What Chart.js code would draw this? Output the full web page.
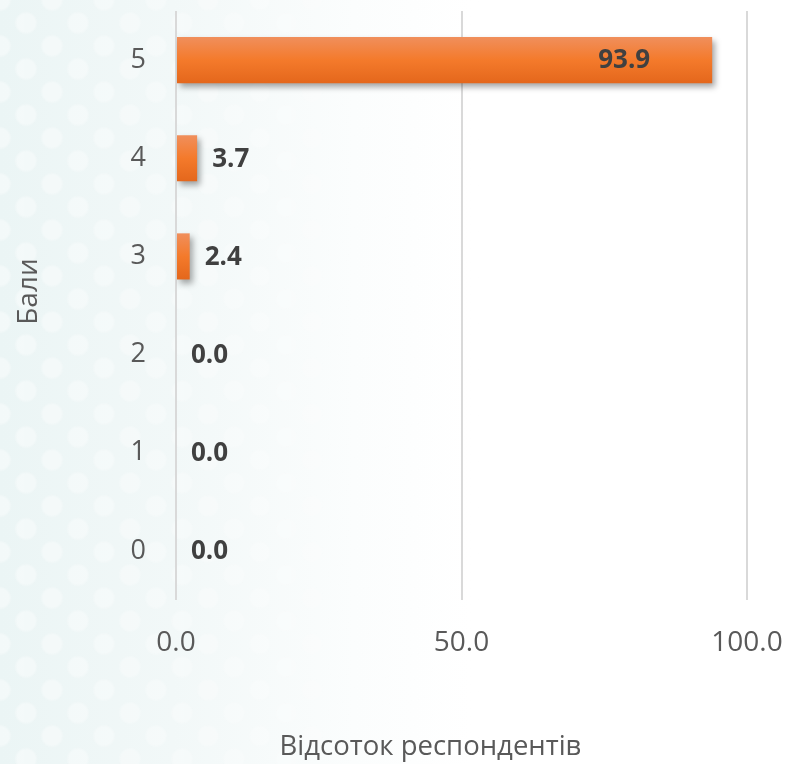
<!DOCTYPE html>
<html>
<head>
<meta charset="utf-8">
<script src="https://cdn.jsdelivr.net/npm/chart.js@4.4.1/dist/chart.umd.min.js"></script>
<style>
  html, body { margin: 0; padding: 0; }
  body {
    width: 786px; height: 764px; overflow: hidden; position: relative;
    background: linear-gradient(to right, #ebf5f5 0%, #f2f8f8 22%, #fbfdfd 45%, #ffffff 60%);
  }
  #dots {
    position: absolute; left: 0; top: 0; width: 786px; height: 764px;
    background-image:
      radial-gradient(circle, rgba(255,255,255,0.42) 9px, rgba(255,255,255,0) 12px),
      radial-gradient(circle, rgba(255,255,255,0.42) 9px, rgba(255,255,255,0) 12px);
    background-size: 52px 46px, 52px 46px;
    background-position: 0 0, 26px 23px;
    -webkit-mask-image: linear-gradient(to right, #000 0%, rgba(0,0,0,0.6) 30%, rgba(0,0,0,0) 65%);
    mask-image: linear-gradient(to right, #000 0%, rgba(0,0,0,0.6) 30%, rgba(0,0,0,0) 65%);
  }
  canvas { position: absolute; left: 0; top: 0; }
</style>
</head>
<body>
<div id="dots"></div>
<canvas id="js--chart" width="786" height="764"></canvas>
<script>
const categories = ["5", "4", "3", "2", "1", "0"];
const values = [93.9, 3.7, 2.4, 0.0, 0.0, 0.0];
const xTicks = [0, 50, 100];

const xTitle = "Відсоток респондентів";
const yTitle = "Бали";

const barShare = 0.94 * 0.5;

// gradient per bar, light on top, darker at the bottom
function barGradient(ctx) {
  const chart = ctx.chart;
  const yScale = chart.scales.y;
  if (!yScale || ctx.dataIndex === undefined) return "#f47b2c";
  const yc = yScale.getPixelForValue(ctx.dataIndex);
  const half = (yScale.bottom - yScale.top) / categories.length * barShare / 2;
  if (!isFinite(yc) || !isFinite(half) || half <= 0) return "#f47b2c";
  const g = chart.ctx.createLinearGradient(0, yc - half, 0, yc + half);
  g.addColorStop(0, "#f08f5c");
  g.addColorStop(0.5, "#f47a2b");
  g.addColorStop(1, "#e4671c");
  return g;
}

const barShadow = {
  id: "barShadow",
  beforeDatasetsDraw(chart) {
    const c = chart.ctx;
    c.save();
    c.shadowColor = "rgba(0,0,0,0.35)";
    c.shadowBlur = 6;
    c.shadowOffsetX = 3;
    c.shadowOffsetY = 4;
  },
  afterDatasetsDraw(chart) {
    chart.ctx.restore();
  },
};

const valueLabels = {
  id: "valueLabels",
  afterDatasetsDraw(chart) {
    const c = chart.ctx;
    const meta = chart.getDatasetMeta(0);
    c.save();
    c.font = "bold 26px 'Open Sans'";
    c.fillStyle = "#404040";
    c.textBaseline = "middle";
    meta.data.forEach((bar, i) => {
      const v = values[i];
      if (v > 50) {
        c.textAlign = "right";
        c.fillText(v.toFixed(1), bar.x - 62, bar.y + 1);
      } else {
        c.textAlign = "left";
        c.fillText(v.toFixed(1), bar.x + 15, bar.y + 1);
      }
    });
    c.restore();
  },
};

const axisTitles = {
  id: "axisTitles",
  afterDraw(chart) {
    const c = chart.ctx;
    const a = chart.chartArea;
    c.save();
    c.font = "27.5px 'Open Sans'";
    c.fillStyle = "#595959";
    c.textAlign = "center";
    c.textBaseline = "alphabetic";
    c.fillText(xTitle, (a.left + a.right) / 2 - 31, 755);
    c.font = "28px 'Open Sans'";
    c.translate(37, (a.top + a.bottom) / 2 - 14);
    c.rotate(-Math.PI / 2);
    c.fillText(yTitle, 0, 0);
    c.restore();
  },
};

const data = {
  labels: categories,
  datasets: [
    {
      data: values,
      backgroundColor: barGradient,
      borderWidth: 0,
      barPercentage: 0.94,
      categoryPercentage: 0.5,
    },
  ],
};

const config = {
  type: "bar",
  data: data,
  options: {
    indexAxis: "y",
    responsive: false,
    animation: false,
    layout: { padding: { left: 0, top: 11, right: 39, bottom: 0 } },
    plugins: {
      legend: { display: false },
      tooltip: { enabled: false },
    },
    scales: {
      x: {
        min: 0,
        max: 100,
        afterFit: (scale) => {
          scale.height = 164;
          scale.paddingLeft = 0;
          scale.paddingRight = 0;
        },
        afterBuildTicks: (scale) => { scale.ticks = xTicks.map((v) => ({ value: v })); },
        grid: { color: "#d9d9d9", lineWidth: 2, drawTicks: false },
        border: { display: false },
        ticks: {
          padding: 26,
          maxRotation: 0,
          color: "#595959",
          font: { family: "'Open Sans'", size: 28 },
          callback: (v) => Number(v).toFixed(1),
        },
      },
      y: {
        afterFit: (scale) => {
          scale.width = 176;
          scale.paddingTop = 0;
          scale.paddingBottom = 0;
        },
        grid: { display: false, drawTicks: false },
        border: { display: false },
        ticks: {
          padding: 30,
          color: "#595959",
          font: { family: "'Open Sans'", size: 27 },
        },
      },
    },
  },
  plugins: [barShadow, valueLabels, axisTitles],
};

new Chart(document.getElementById("js--chart"), config);
</script>
</body>
</html>
